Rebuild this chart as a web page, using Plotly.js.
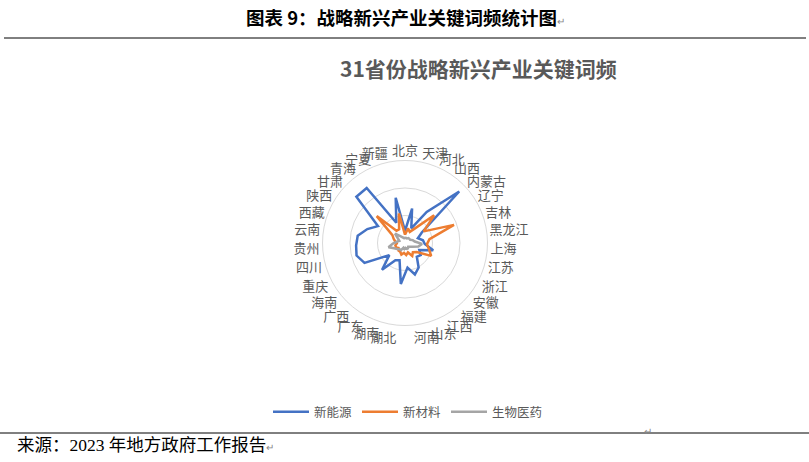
<!DOCTYPE html>
<html>
<head>
<meta charset="utf-8">
<script src="https://cdn.plot.ly/plotly-3.0.1.min.js"></script>
<style>
  html, body { margin: 0; padding: 0; background: #fff; }
  #chart { width: 809px; height: 462px; }
</style>
</head>
<body>
<div id="chart"></div>
<script>
// provinces, clockwise from the top
var provinces = ["北京", "天津", "河北", "山西", "内蒙古", "辽宁", "吉林", "黑龙江", "上海", "江苏",
    "浙江", "安徽", "福建", "江西", "山东", "河南", "湖北", "湖南", "广东", "广西",
    "海南", "重庆", "四川", "贵州", "云南", "西藏", "陕西", "甘肃", "青海", "宁夏", "新疆"];

// keyword counts
var newEnergy = [22, 64, 29, 69, 136, 36, 25, 33, 36, 53,
    29, 36, 33, 51, 60, 45, 75, 33, 36, 64,
    36, 82, 91, 89, 87, 73, 58, 122, 122, 40, 84];
var newMaterial = [15, 27, 22, 33, 73, 40, 95, 45, 40, 45,
    53, 27, 22, 27, 18, 22, 18, 22, 18, 18,
    15, 18, 18, 15, 18, 22, 27, 71, 27, 27, 55];
var bioMedicine = [11, 9, 9, 11, 11, 11, 15, 18, 31, 25,
    15, 11, 9, 11, 11, 9, 11, 9, 15, 15,
    18, 22, 31, 22, 15, 11, 15, 25, 15, 11, 9];

var seriesNames = ["新能源", "新材料", "生物医药"];
var seriesColors = ["#4472C4", "#ED7D31", "#A5A5A5"];

// close the polygon by repeating the first point
function closed(arr) { return arr.concat([arr[0]]); }

var data = [newEnergy, newMaterial, bioMedicine].map(function (vals, i) {
    return {
        type: "scatterpolar",
        r: closed(vals),
        theta: closed(provinces),
        mode: "lines",
        name: seriesNames[i],
        line: { color: seriesColors[i], width: 2.5, shape: "linear" },
        hoverinfo: "skip"
    };
});

var W = 809, H = 462;
// helpers to place things by pixel
function px(x) { return x / W; }
function py(y) { return 1 - y / H; }

var cx = 405, cy = 243, R = 82.5;

var layout = {
    width: W,
    height: H,
    margin: { l: 0, r: 0, t: 0, b: 0 },
    paper_bgcolor: "#fff",
    font: { family: "Noto Sans CJK SC, sans-serif", color: "#595959", size: 12 },
    showlegend: true,
    legend: {
        orientation: "h",
        x: px(408), xanchor: "center",
        y: py(412), yanchor: "middle",
        font: { size: 12.5, color: "#595959" },
        itemwidth: 36,
        traceorder: "normal"
    },
    polar: {
        domain: { x: [px(cx - R), px(cx + R)], y: [py(cy + R), py(cy - R)] },
        bgcolor: "#fff",
        radialaxis: {
            range: [0, 150],
            tickvals: [50, 100, 150],
            showticklabels: false,
            ticks: "",
            showline: false,
            gridcolor: "#d9d9d9",
            gridwidth: 1
        },
        angularaxis: {
            direction: "clockwise",
            rotation: 90,
            showgrid: false,
            ticks: "",
            showline: true,
            linecolor: "#d9d9d9",
            linewidth: 1,
            tickfont: { size: 13, color: "#595959" }
        }
    },
    shapes: [
        { type: "line", xref: "paper", yref: "paper", x0: px(4), x1: px(806), y0: py(38), y1: py(38),
          line: { color: "#000", width: 1 } },
        { type: "line", xref: "paper", yref: "paper", x0: px(0), x1: px(809), y0: py(433), y1: py(433),
          line: { color: "#000", width: 1 } }
    ],
    annotations: [
        { text: "<b>图表 9：战略新兴产业关键词频统计图</b><span style='color:#888;font-size:10px'>↵</span>",
          xref: "paper", yref: "paper", x: px(405), y: py(17), xanchor: "center", yanchor: "middle",
          showarrow: false, font: { size: 18.5, color: "#000", family: "Noto Sans CJK SC, sans-serif" } },
        { text: "<b>31省份战略新兴产业关键词频</b>",
          xref: "paper", yref: "paper", x: px(478), y: py(68), xanchor: "center", yanchor: "middle",
          showarrow: false, font: { size: 21, color: "#595959", family: "Noto Sans CJK SC, sans-serif" } },
        { text: "来源：2023 年地方政府工作报告<span style='color:#888;font-size:10px'>↵</span>",
          xref: "paper", yref: "paper", x: px(15), y: py(445), xanchor: "left", yanchor: "middle",
          showarrow: false, font: { size: 17.5, color: "#000", family: "Liberation Serif, Noto Sans CJK SC, serif" } },
        { text: "↵",
          xref: "paper", yref: "paper", x: px(648), y: py(430), xanchor: "center", yanchor: "middle",
          showarrow: false, font: { size: 10, color: "#888" } }
    ]
};

Plotly.newPlot("chart", data, layout, { displayModeBar: false, staticPlot: true });
</script>
</body>
</html>
